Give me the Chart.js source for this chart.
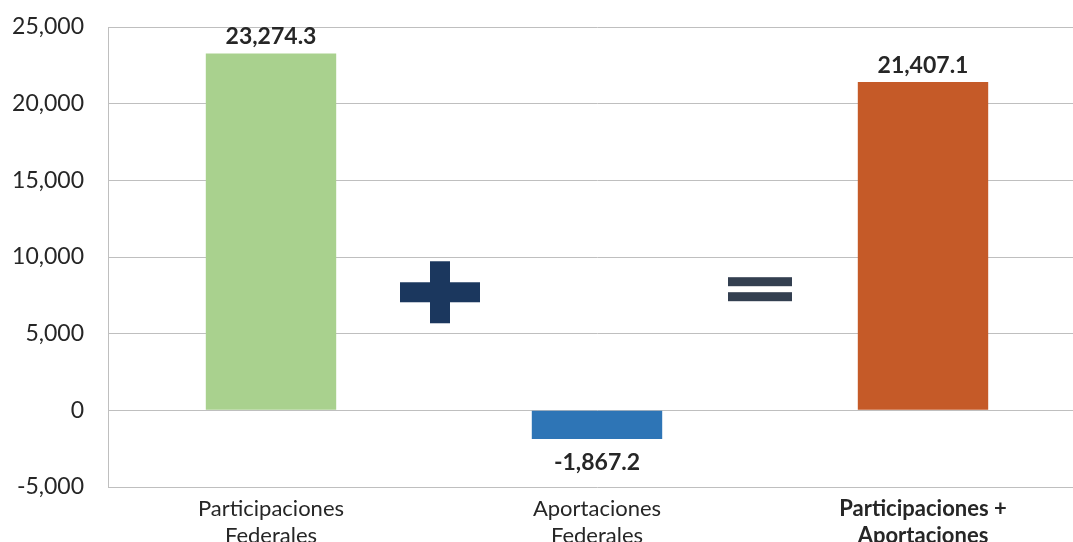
<!DOCTYPE html>
<html>
<head>
<meta charset="utf-8">
<script src="https://cdn.jsdelivr.net/npm/chart.js@4"></script>
<style>
  html, body { margin: 0; padding: 0; background: #fff; overflow: hidden; }
  #wrap { width: 1090px; height: 560px; }
</style>
</head>
<body>
<div id="wrap"><canvas id="chart"></canvas></div>
<script>
const categories = [
  ["Participaciones", "Federales"],
  ["Aportaciones", "Federales"],
  ["Participaciones +", "Aportaciones"],
];
const values = [23274.3, -1867.2, 21407.1];
const barColors = ["#A9D18E", "#2E75B6", "#C55A28"];
const valueLabels = ["23,274.3", "-1,867.2", "21,407.1"];

const textColor = "#262626";
const fontFamily = "Lato, 'Open Sans', sans-serif";

// value labels above / below each bar
const barLabels = {
  id: "barLabels",
  afterDatasetsDraw(chart) {
    const ctx = chart.ctx;
    const meta = chart.getDatasetMeta(0);
    ctx.save();
    ctx.font = "bold 23px " + fontFamily;
    ctx.fillStyle = textColor;
    ctx.textAlign = "center";
    meta.data.forEach((bar, i) => {
      if (values[i] >= 0) {
        ctx.textBaseline = "bottom";
        ctx.fillText(valueLabels[i], bar.x, bar.y - 5);
      } else {
        ctx.textBaseline = "top";
        ctx.fillText(valueLabels[i], bar.x, bar.y + 12);
      }
    });
    ctx.restore();
  },
};

// plus and equals signs between the bars
const signs = {
  id: "signs",
  afterDatasetsDraw(chart) {
    const ctx = chart.ctx;
    const x = chart.scales.x;
    const y = chart.scales.y;
    ctx.save();

    const px = (x.getPixelForValue(0) + x.getPixelForValue(1)) / 2 + 6;
    const py = y.getPixelForValue(7700);
    ctx.fillStyle = "#1B375E";
    ctx.fillRect(px - 40, py - 10, 80, 20);
    ctx.fillRect(px - 10, py - 31, 20, 62);

    const ex = (x.getPixelForValue(1) + x.getPixelForValue(2)) / 2;
    const ey = y.getPixelForValue(7900);
    ctx.fillStyle = "#333F50";
    ctx.fillRect(ex - 32, ey - 12, 64, 9);
    ctx.fillRect(ex - 32, ey + 3, 64, 9);

    ctx.restore();
  },
};

new Chart(document.getElementById("chart"), {
  type: "bar",
  data: {
    labels: categories,
    datasets: [
      {
        data: values,
        backgroundColor: barColors,
        categoryPercentage: 1,
        barPercentage: 0.4,
      },
    ],
  },
  options: {
    responsive: true,
    maintainAspectRatio: false,
    animation: false,
    layout: { padding: { top: 27, right: 4, left: 0, bottom: 0 } },
    plugins: {
      legend: { display: false },
      tooltip: { enabled: false },
    },
    scales: {
      x: {
        grid: { display: false },
        border: { display: false },
        ticks: {
          color: textColor,
          padding: 0,
          maxRotation: 0,
          font: (c) => ({
            family: fontFamily,
            size: 22,
            weight: c.index === 2 ? "bold" : "normal",
            lineHeight: 1.25,
          }),
        },
        afterFit(scale) {
          scale.height = 73;
        },
      },
      y: {
        min: -5000,
        max: 25000,
        ticks: {
          stepSize: 5000,
          color: textColor,
          padding: 24,
          font: { family: fontFamily, size: 23 },
          callback: (v) => v.toLocaleString("en-US"),
        },
        grid: { color: "#BFBFBF", lineWidth: 1, drawTicks: false },
        border: { display: true, color: "#BFBFBF" },
        afterFit(scale) {
          scale.width = 108;
          scale.paddingTop = 0;
          scale.paddingBottom = 0;
        },
      },
    },
  },
  plugins: [barLabels, signs],
});
</script>
</body>
</html>
